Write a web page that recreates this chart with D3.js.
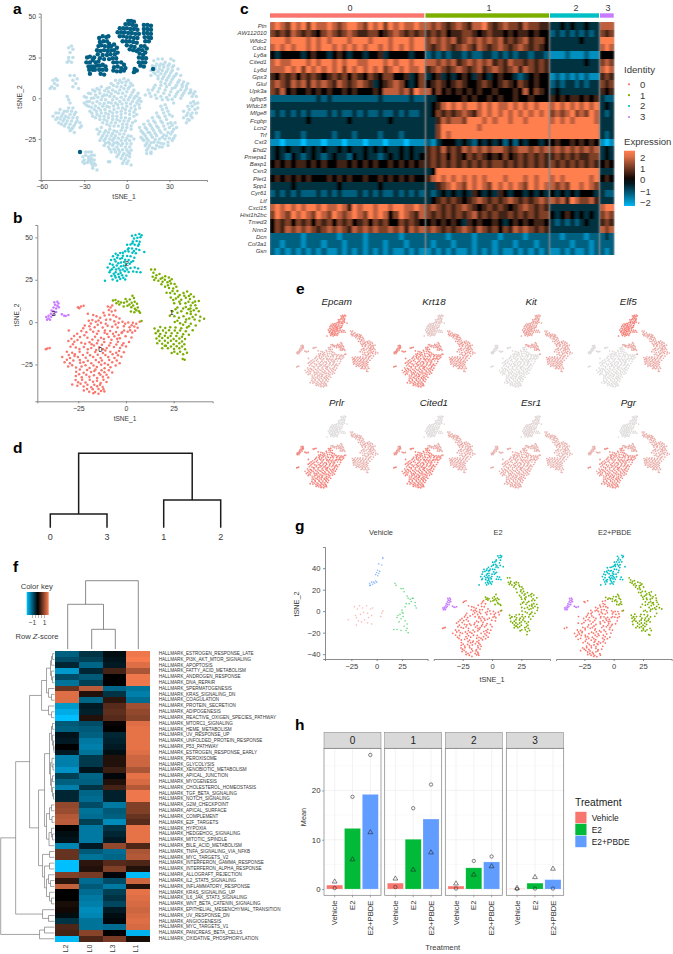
<!DOCTYPE html>
<html><head><meta charset="utf-8">
<script src="https://cdn.jsdelivr.net/npm/d3@7"></script>
<style>html,body{margin:0;background:#fff}svg{display:block;font-family:"Liberation Sans",Arial,sans-serif}</style>
</head><body><svg id="c" width="673" height="954"><defs><filter id="soft" x="-5%" y="-5%" width="110%" height="110%"><feGaussianBlur stdDeviation="0.35"/></filter><filter id="hblur" x="0" y="0" width="100%" height="100%"><feGaussianBlur stdDeviation="1.25 0.25"/></filter></defs></svg>
<script>
// ---------- DATA ----------
const clusterIds=["0","1","2","3"];
const clusterColors=["#F8766D","#7CAE00","#00BFC4","#C77CFF"];
// panel a (tSNE coordinates)
const aDark=[[-19.5,37],[-17,38],[-14.5,37.5],[-13,38],[-19,34.5],[-16.5,35],[-14,35],[-12.5,33.5],[-20,32],[-18,32.5],[-15.5,32],[-13,31.5],[-11,32],[-9,33],[-7,31],[-21,29.5],[-18.5,29],[-16,29.5],[-13.5,29],[-11,29.5],[-9,29.5],[-6.5,28],[-20.5,27],[-17,26.5],[-14,26.5],[-11.5,27],[-8.5,27],[-10,24.5],[-7.5,24.5],[-12.5,24],[-16,24],[-19,24.5],[-23,25],[-28,25],[-26,25.5],[-24,23.5],[-28.5,22],[-26,22],[-22,22],[-20,22.5],[-27,19.5],[-25,19.5],[-23,19.5],[-21,20],[-26.5,17.5],[-24,17.5],[-22.5,17.5],[-19,20],[-17,20.5],[-15,19.5],[-19.5,17.5],[-17,17.5],[-14.5,17.5],[-18.5,15],[-16,14.5],[-9.5,22],[-7,22],[-4,22],[-2,20.5],[-9,19],[-6.5,19.5],[-4,18.5],[-1,18.5],[-9.5,17],[-7,16.5],[-4.5,16.5],[-2,17],[1,47.5],[3,47.5],[5,47],[-1,45.5],[1.5,45.5],[4,45],[6.5,44.5],[-5,43],[-2.5,43],[0,43],[2.5,42.5],[5,42.5],[7.5,42],[-6.5,40.5],[-4,40.5],[-1.5,40.5],[1,40],[3.5,40],[6,39.5],[8.5,39.5],[-5,38],[-2.5,38],[0,37.5],[2.5,37.5],[5,37],[7.5,37],[-3,35],[-0.5,35],[2,35],[4.5,34.5],[7,34],[0,32.5],[3,32],[5.5,31.5],[2,30],[4.5,29.5],[7,29],[12,45],[14.5,45],[17,44.5],[12,42.5],[14.5,42.5],[17,42],[12,40],[14.5,40],[17,39.5],[12.5,37.5],[15,37.5],[17,37],[13,35],[15.5,35],[10,32],[12.5,32],[14,30.5],[8.5,30],[11,29.5],[13,28],[9,27.5],[11.5,26.5],[8.5,25],[11,24.5],[13.5,24.5],[8.5,22],[11,22],[13,22],[9.5,20],[12,19.5],[5.5,18],[7,17],[5,16],[18.5,18],[-26,15],[-33,-33]];
const aLight=[[-30,1],[-27,3],[-24,5],[-21,6],[-18,7],[-14,6],[-11,9],[-8,11],[-5,11],[-2,12],[1,11],[4,8],[-28,-2],[-25,0],[-22,2],[-19,3],[-16,2],[-13,4],[-10,5],[-7,7],[-4,7],[-1,8],[2,7],[5,5],[8,3],[-30,-3],[-27,-5],[-24,-3],[-21,-2],[-18,-1],[-15,-1],[-12,1],[-9,1],[-6,3],[-3,3],[0,4],[3,2],[6,1],[9,0],[-26,-8],[-23,-7],[-20,-6],[-17,-5],[-14,-5],[-11,-3],[-8,-3],[-5,-2],[-2,-1],[1,-1],[4,-2],[7,-3],[10,-2],[-24,-11],[-21,-10],[-18,-9],[-15,-9],[-12,-8],[-9,-7],[-6,-6],[-3,-6],[0,-5],[3,-6],[6,-7],[9,-6],[-19,-13],[-16,-13],[-13,-12],[-10,-11],[-7,-11],[-4,-10],[-1,-9],[2,-10],[5,-11],[7,-10],[-14,-16],[-11,-15],[-8,-15],[-5,-14],[-2,-14],[1,-14],[4,-15],[6,-14],[-3,-18],[0,-18],[3,-19],[-21,-19],[-18,-18],[-15,-20],[-12,-19],[-9,-20],[-20,-22],[-17,-23],[-14,-23],[-11,-23],[-8,-23],[-5,-22],[-2,-22],[1,-23],[-19,-26],[-16,-26],[-13,-27],[-10,-26],[-7,-27],[-4,-26],[-1,-26],[2,-26],[5,-25],[-16,-29],[-13,-30],[-10,-29],[-7,-30],[-4,-29],[-1,-30],[2,-30],[-11,-33],[-8,-33],[-5,-33],[-2,-34],[1,-33],[3,-32],[-7,-36],[-4,-37],[-1,-37],[2,-36],[-3,-40],[0,-40],[3,-41],[9,-18],[12,-16],[15,-14],[18,-12],[21,-9],[24,-5],[27,-4],[11,-21],[14,-19],[17,-17],[20,-15],[23,-12],[26,-9],[29,-8],[32,-11],[10,-24],[13,-23],[16,-21],[19,-20],[22,-18],[25,-15],[28,-13],[31,-15],[34,-15],[12,-26],[15,-26],[18,-24],[21,-23],[24,-21],[27,-19],[30,-18],[33,-19],[35,-18],[13,-29],[16,-29],[19,-27],[22,-27],[25,-24],[28,-23],[31,-22],[34,-23],[14,-32],[17,-33],[20,-31],[23,-30],[26,-28],[29,-27],[32,-26],[14,-34],[17,-34],[25,-30],[29,-29],[19,23],[22,24],[25,24],[31,24],[33,23],[18,20],[21,21],[24,21],[27,22],[30,21],[33,20],[36,18],[17,17],[20,18],[23,18],[26,19],[29,18],[32,17],[35,15],[38,14],[17,14],[20,15],[24,15],[27,15],[30,14],[33,13],[37,11],[40,10],[43,9],[22,12],[25,12],[28,11],[31,10],[35,8],[39,7],[42,6],[45,5],[20,8],[24,8],[28,7],[32,6],[36,4],[40,3],[44,3],[48,4],[15,5],[18,5],[22,4],[26,3],[30,2],[34,1],[38,0],[46,1],[49,1],[13,2],[17,1],[21,0],[25,-1],[29,-1],[33,-3],[47,-2],[50,-3],[43,-5],[46,-5],[50,-6],[40,-8],[43,-9],[46,-9],[49,-9],[40,-12],[43,-13],[46,-12],[42,-15],[-50,-9],[-47,-7],[-44,-8],[-41,-6],[-38,-6],[-52,-11],[-49,-12],[-46,-11],[-43,-11],[-40,-10],[-37,-10],[-35,-12],[-48,-15],[-45,-14],[-42,-14],[-39,-14],[-36,-15],[-33,-15],[-44,-17],[-41,-18],[-38,-18],[-33,-18],[-40,-20],[-37,-21],[-32,-17],[-53,7],[-51,6],[-49,8],[-51,9],[-49,11],[-52,11],[-50,12],[-54,6],[-40,14],[-37,14],[-38,11],[-35,12],[-36,9],[-38,7],[-34,6],[-41,23],[-39,22],[-38,25],[-41,25],[-40,28],[-38,30],[-41,31],[-39,32],[-42,22],[-31,-36],[-29,-33],[-27,-33],[-25,-33],[-23,-35],[-30,-38],[-27,-36],[-25,-37],[-23,-38],[-30,-40],[-27,-39],[-25,-40],[-22,-41],[-24,-43],[-21,-44],[-31,-39],[-13,-39],[-12,-39],[-41,-1],[-42,1],[-40,-3],
 [-28.5,.5],[-25.5,2.8],[-22.5,4.2],[-19.4,5],[-15.6,4.6],[-12.4,6.6],[-9.4,7.8],[-6.2,9.2],[-3.4,9.6],[-.6,10],[2.6,9.2],[-26.4,-2],[-23.2,.2],[-20.4,.6],[-17.2,1],[-14.2,2],[-11,2.8],[-8,4],[-5,5],[-2,5.8],[1,6],[4,3.6],[7,1.4],[-28.6,-4.2],[-25,-5.6],[-22.2,-4.8],[-19,-3.4],[-16,-3.2],[-13,-2.6],[-10,-1],[-7,-.4],[-4,.6],[-1,1.4],[2,.6],[5,-.2],[8,-1.4],[-24.6,-9.2],[-21.4,-8.2],[-18.6,-7.2],[-15.4,-7],[-12.4,-5.6],[-9.4,-4.8],[-6.4,-4],[-3.4,-3.6],[-.4,-3],[2.6,-3.6],[5.6,-4.8],[8.6,-4],[-22,-12],[-19,-11],[-16,-11],[-13,-10],[-10,-9],[-7,-8.6],[-4,-8],[-1,-7],[2,-7.8],[5,-8.6],[-17,-15],[-14,-14],[-10,-13],[-7,-13],[-4,-12],[-1,-12],[2,-12.4],[-12,-17],[-9,-17],[-6,-17],[-3,-16],[0,-16],[3,-17],[-19,-20.4],[-16,-21.4],[-13,-21],[-10,-21.6],[-7,-20.6],[-4,-19.6],[-1,-20],[-18,-24.4],[-15,-24.8],[-12,-25],[-9,-24.6],[-6,-24.6],[-3,-24],[0,-24.6],[3,-23.4],[-15,-27.6],[-12,-28],[-9,-27.6],[-6,-28],[-3,-27.8],[0,-28],[3,-28],[-12,-31.4],[-9,-31.4],[-6,-31.6],[-3,-31.6],[0,-31.8],[-6,-34.6],[-3,-35.2],[0,-35],[2,-34],[-2,-38.6],[1,-38.6],[10,-20],[13,-18],[16,-16],[19,-14],[22,-11],[25,-7],[28,-6],[12,-22],[15,-21],[18,-18.6],[21,-17],[24,-14],[27,-11],[30,-10],[11,-25],[14,-24.6],[17,-22.6],[20,-21.6],[23,-19.6],[26,-17],[29,-15.6],[32,-16.6],[14,-27.6],[17,-27.4],[20,-25.4],[23,-25],[26,-22.6],[29,-21],[32,-20.6],[15,-30.6],[18,-30.6],[21,-29],[24,-27.6],[27,-25],[30,-24.6],[33,-24.6],[20,19.4],[23,19.8],[26,20.6],[29,20],[32,19],[19,16],[22,16.4],[25,17],[28,16.4],[31,15.6],[34,14],[22,13.6],[26,13.4],[29,12.6],[32,11.6],[36,9.6],[39,8.4],[42,7.6],[24,10],[27,9],[30,8.4],[34,6.6],[38,5.2],[41,4.6],[45,3.6],[19,6.4],[23,6],[27,5],[31,4],[35,2.6],[39,1.6],[47,2.6],[16,3],[20,2],[24,1],[28,.4],[32,-.6],[45,-3],[48,-3.6],[44,-7],[48,-7],[42,-10.6],[45,-10.6],[44,-13.6],[-48,-9],[-45,-9.6],[-42,-8],[-39,-8],[-36,-8.6],[-50,-13],[-47,-12.8],[-44,-12.6],[-41,-12],[-38,-12],[-35,-13.8],[-46,-16],[-43,-15.6],[-40,-16],[-37,-16.6],[-39,-19],[-29,-35],[-27,-37.6],[-25,-35],[-28,-39.4],[-25,-38.6],[-23,-40],[-24,-41.6]];
// panels b, e, g (shared tSNE coordinates)
const cells0=[[-9.5,9.2],[-8.1,8.6],[-7.2,9.8],[-9,7.1],[-7.5,6.3],[-5.6,6.9],[-8.8,4.4],[-6.6,4.1],[-5.1,3.2],[-17.2,4.2],[-15.4,3.5],[-13.5,2.6],[-11.2,3.9],[-3.4,2.1],[-10.4,1.4],[-8.2,1.5],[-19.5,.8],[-17.6,1.2],[-15.8,.2],[-13.1,-.3],[-6.1,.5],[-3.9,-.4],[-1.8,.3],[1.2,-.2],[3.6,-.4],[5.4,-.9],[7.2,.2],[-21.6,-2],[-19.2,-2.4],[-16.4,-3],[-12.2,-3.1],[-9.6,-2.2],[-7.2,-2.7],[-4.4,-3.1],[-1.1,-2.5],[1.9,-3],[4.4,-2.6],[6.1,-3.3],[-23.4,-5.2],[-20.8,-6],[-17.2,-5.7],[-14.4,-5.2],[-11.2,-6.2],[-8.3,-5.3],[-5.2,-5.8],[-2.3,-6.4],[.9,-5.6],[3.3,-6.1],[4.8,-5.1],[-27.2,-8.2],[-24.1,-8.8],[-20.2,-9.2],[-16.2,-8.6],[-13.1,-9.2],[-9.1,-8.8],[-6.1,-8.4],[-3.2,-9.5],[-.2,-8.4],[2.9,-9],[-30.2,-11.2],[-27.1,-11.6],[-23.4,-12.2],[-19.1,-11.8],[-15.2,-12.4],[-11.4,-11.7],[-8.1,-12.3],[-4.2,-11.6],[-1.3,-12.4],[1.6,-11.7],[-29.1,-14.5],[-26.3,-15],[-22.1,-14.6],[-18.2,-15.2],[-14,-14.8],[-10.1,-15.3],[-6.3,-14.6],[-3.1,-15.2],[0,-14.4],[-31,-17.5],[-28.2,-18],[-24.3,-17.4],[-20.2,-18.1],[-16.1,-17.6],[-12.1,-18.2],[-8.2,-17.5],[-5.1,-18.1],[-1.1,-17.7],[-33.4,-20.6],[-29.3,-21.2],[-25.2,-20.6],[-21.1,-21],[-17.2,-20.5],[-13.3,-21.2],[-9.3,-20.6],[-6,-21.2],[-2.4,-20.4],[-32.2,-23.6],[-29.4,-24.2],[-22.2,-23.7],[-18.2,-24.2],[-14.2,-23.6],[-11.1,-24.3],[-7.2,-23.7],[-3.3,-24.2],[-30.3,-26.2],[-26.2,-26.8],[-23.3,-26.2],[-19.1,-27],[-15.3,-26.4],[-11.2,-27.2],[-8.1,-26.6],[-26.1,-29.2],[-22.2,-29.8],[-18.3,-29.4],[-14.1,-30.2],[-11.3,-29.6],[-7.2,-29.7],[-26.3,-31.8],[-23.2,-32.5],[-19.2,-32.2],[-15.1,-33],[-12.1,-32.2],[-9.3,-32.7],[-25.1,-35.4],[-21.2,-35.6],[-17.3,-35.2],[-13.3,-35.9],[-10.2,-35.3],[-28.2,-36.8],[-25.5,-37.5],[-22.2,-38],[-18.2,-38.4],[-15.1,-37.8],[-12.2,-38.2],[-22.1,-40.3],[-19.3,-41],[-16.2,-41.2],[-13.1,-40.6],[-11.3,-40.9],[-17.1,-42],[-14.4,-42.3],[-41.2,-15.6],[-40,-15.2],[-42,-16],[-25.2,8.8],[-23.6,9.2],[-22.2,9.6],[-24.5,8.2],[-30,-5],[-20,5],[-27,-20],[-11,-5],[-2,-6],[-18,-13],[-7,-19],[-16,-28],[-24,-24],[-12,-16],
 [-11.8,5.6],[-14.4,.9],[-18.4,-.8],[-14.8,-1.6],[-10.6,-1],[-5.4,-1.4],[-.4,-1],[3,-1.8],[-22.4,-3.6],[-18.6,-4.4],[-15.2,-6.8],[-9.8,-7],[-6.8,-6.8],[-3.8,-7.6],[-1,-5],[2.2,-4.8],[-25.6,-6.8],[-21.8,-7.8],[-17.6,-10.2],[-14.6,-10.8],[-11.6,-10],[-7.6,-10.4],[-4.6,-9.8],[-28.6,-9.8],[-25.4,-10.6],[-21.4,-12.8],[-16.8,-13.8],[-12.6,-13.4],[-8.8,-13.8],[-5,-13.2],[-2,-13.6],[-27.8,-13],[-24.4,-15.8],[-20,-16],[-15.6,-16.4],[-10.8,-16.8],[-3.6,-17],[-30,-19.4],[-26.8,-19],[-22.6,-19.4],[-18.8,-19.6],[-14.8,-19.2],[-10.8,-19.4],[-4.2,-19.6],[-31,-22.2],[-27.6,-22.6],[-24.2,-22.4],[-20,-22.8],[-15.8,-22.4],[-12.6,-22.6],[-8.8,-22.4],[-4.8,-22.6],[-28.2,-25.4],[-21.2,-25.4],[-17,-25.6],[-13,-25.2],[-9.4,-25.2],[-5.4,-25.6],[-24.2,-28],[-20.4,-28.2],[-16.6,-28.8],[-12.8,-28.4],[-9,-28.4],[-24.6,-30.8],[-20.8,-31],[-16.8,-31.4],[-13.4,-31],[-10.2,-31],[-23,-34],[-19,-34],[-15.2,-34.6],[-11.8,-34],[-26.4,-34.2],[-23.8,-36.4],[-20.2,-37],[-16.6,-37],[-13.6,-37],[-20.4,-39.4],[-17.4,-39.6],[-14.4,-39.4],[-11.8,-39.6]];
const cells1=[[-6.8,12.8],[-5.5,13],[-4,12.2],[-2.6,11.6],[-1,11.5],[.5,12.2],[2,13.4],[3.4,15.6],[4.2,14.2],[3,11.4],[4.6,12],[5.8,10.9],[6.2,8.6],[-3.5,10.4],[-1.2,9.2],[.8,9.6],[2.8,8.8],[4.7,7.9],[6.8,6.4],[2.6,6.2],[4.4,5.8],[7.4,5.5],[8.2,.6],[13.2,31],[14.4,29.2],[15.2,31],[14,26.8],[16,27.6],[17.6,28.4],[19.1,26.2],[20.6,27],[22.5,26.4],[24,25.3],[14.8,24.9],[17,24.4],[19.2,23.8],[21.8,23.6],[23.6,22.8],[25.5,22.5],[20.5,20.8],[22.6,20.2],[24.8,19.8],[27,18.3],[21.3,17.4],[23.2,17.2],[25.6,16.8],[28.2,16],[30.2,17.2],[32.1,18],[34,16.4],[35.6,15],[23.5,14.6],[26.2,14],[29,13.2],[31.4,14.4],[33.6,13.6],[36.2,12.2],[38.2,12.4],[25.3,11.2],[28.4,10.8],[31.2,11.2],[34,9.8],[36.4,10],[30,8],[32.8,7.6],[35.6,7],[38.2,6.4],[24.4,6.4],[27,5.6],[34,4.8],[36.6,4.4],[39,3.2],[41,2],[27.8,2.6],[30.2,3.4],[33.2,2.2],[36,1.6],[38.6,.8],[25.6,.1],[28.4,-.6],[31.2,.1],[34,-1],[36.6,-2],[15,-3.8],[18,-2.8],[20.6,-3.4],[23.2,-3],[26,-3.2],[29,-3.6],[32,-3.2],[35,-4.8],[15.6,-6.6],[18,-7],[21,-6.2],[24,-6.6],[27,-6.4],[30,-7.2],[33,-7.4],[16,-9.6],[19,-9.4],[22,-9.2],[25,-10],[28,-9.6],[31,-10],[16.4,-12.4],[19,-12.8],[22,-12.2],[25,-13],[28,-12.4],[30.6,-13],[19,-15.4],[22,-15.4],[25.2,-15.8],[28,-15.4],[31,-16],[24,-18.2],[27,-18.6],[30,-19],[32,-18],[29.8,-21.8],[30.8,-22.2],[21,-14],[17,-5],[34,6.2],[23,3.8],[30,-1.5],
 [-5,11.2],[1.8,10.4],[-.2,13.6],[3.8,9.8],[5.4,7],[15.6,26],[18.2,25.6],[20.4,25],[23,24.2],[18.6,22.4],[22,21.8],[26.4,20.8],[24.4,18.4],[27.4,15],[30.6,15.6],[33,15.4],[24.8,13],[28,12],[32.8,12],[35,11.4],[27,8.6],[31.4,9],[33.8,8],[26,7.6],[29,6.4],[32,5.2],[37,8.2],[25.4,3.4],[31.6,1.6],[35,3],[27,.8],[33,-2.4],[16.8,-5.4],[19.4,-5],[22.6,-4.8],[25.6,-5],[28.4,-5],[31.4,-5.4],[17.4,-8.4],[20.4,-8],[23.4,-8.2],[26.4,-8.2],[29.4,-8.6],[17.6,-11],[20.4,-11],[23.6,-11],[26.4,-11.2],[29.4,-11.4],[20.4,-14],[23.6,-14.4],[26.6,-14.2],[29.4,-14.4],[25.4,-17.4],[28.4,-17.4]];
const cells2=[[3.2,51],[5,51.4],[7,52],[8.2,51.2],[4.2,49.4],[6,49.8],[7.6,50],[3.6,47.6],[5.6,47.8],[7.2,47.4],[.6,45.6],[2.4,45.8],[4.6,45.6],[6.4,45],[1.4,43.6],[3.2,43.4],[5.4,43.2],[7,42.6],[9.6,41.4],[-.4,41.8],[1.4,41.6],[3.4,41],[5.2,40.6],[-3,40.8],[-5.4,40.4],[-1.6,39.2],[.6,39],[2.4,38.8],[4.4,38],[-6.8,38.8],[-4.6,38],[-3,37.4],[-.4,36.8],[1.4,36.6],[3.8,36],[-7.8,36.6],[-5.4,35.8],[-2.6,35.2],[0,34.4],[2,34.4],[-7,33.8],[-4.8,33.4],[-2.6,33],[-.2,32.2],[2.4,32],[4.6,32.2],[6.4,31.6],[-9.6,32.2],[-7.4,31.2],[-5.2,31],[-3,30.4],[-.6,30],[1.4,29.6],[3.8,29.8],[5.6,29.6],[-8.6,29.4],[-6.4,28.6],[-4,28.2],[-2,27.6],[.2,27.4],[-7.6,27.2],[-5.4,26.4],[-3,25.4],[-.4,25.2],[-7,25.2],[-4.6,24.4],[7.6,29.4],[-11,24.4],
 [6.8,46],[3.4,46.6],[1,42.8],[4.2,42],[-1.6,41],[-4.2,39.4],[-2,37.8],[-6,37],[-1,35.4],[2.8,35.4],[-8.4,34.4],[-4,34.8],[-1.2,33.2],[-6.4,32.4],[-3.8,31.6],[-1.6,31],[.6,31],[-8.2,30.4],[-5.4,29.4],[-2.8,29],[-5.8,27.4],[-3.6,26.6],[-1.4,26.2]];
const cells3=[[-37.6,11.8],[-36,12],[-35.4,11],[-37.2,10.2],[-36,9.6],[-35.2,8.8],[-38,8.6],[-36.6,8],[-39,6.8],[-38,6.4],[-36.6,6],[-39.4,5],[-38.2,4.4],[-40.6,3.8],[-39.2,3.2],[-41.8,3],[-40.6,2.2],[-41.4,1.4],[-39.8,1.4],[-33.6,4.6],[-32.4,3.8],[-31.6,3.6],[-30.2,4.2]];
const clusterCells=[cells0,cells1,cells2,cells3];
// panel g, Vehicle
const vehicleRed=[[-28,-8],[-22,4],[-21,-4],[-20,-13],[-19,2],[-18,-9],[-17,5],[-16,-3],[-15,-10],[-14,3],[-13,-1],[-12,-8],[-10,5],[-9,-2],[-9,-11],[-8,-6],[-6,2],[-5,-4],[-5,-12],[-4,3],[4,-5],[6,0],[5,-2],[-20,-6]];
const vehicleGreen=[[18,26],[19,24],[24,21],[26,21],[27,18],[30,14],[31,12],[33,11],[35,12],[34,9],[36,12],[32,7],[38,5],[39,3],[29,7],[28,4],[38,8],[25,-1],[23,-3],[21,-4],[20,-6],[24,-7],[26,-5],[28,-9],[22,-10],[27,-14],[30,-12],[29,-18],[31,-20],[17,-17],[20,-17],[24,-18],[30,-16],[26,-2],[25,1]];
const vehicleBlue=[[6,50],[6,49],[5,43],[2,44],[3,37],[1,38],[1,33],[2,35],[0,36],[-1,34],[-7,26],[-5,27],[-3,27],[-1,28],[0,27],[-2,26],[-4,25],[-6,24],[-7,24]];
// panel c
const genes=["Ptn","AW112010","Wfdc2","Cdo1","Ly6a","Cited1","Ly6d","Gpx3","Glul","Upk3a","Igfbp5","Wfdc18","Mfge8","Fcgbp","Lcn2","Trf","Cst3","Ehd2","Pmepa1","Basp1","Csn3","Plet1","Spp1","Cyr61","Ltf","Cxcl15","Hist1h2bc","Tmed3","Nnn3","Dcn","Col3a1","Gsn"];
// one digit per cell column, 0 = -2.4 ... 4 = 0 ... 8 = 2.4
const geneCluster0=["787687868778767887687868787787","656576565467656765566456765656","888788878787888788878887888788","787878878788787878788787878788","434444345443454344344534444344","787788878788787887788878788788","777878687878786878787867878778","546564656545656465465466445346","676576757676576567653456764346","657454454545445454445477767587","222222222323222222222322222322","333333333333333333333333333333","232323232223232232322322323223","333333343333333433333334333333","333333333333333333333333333333","323333233333233323333233323333","110111011101110111011101110111","343433434343343433434343343433","343243234323433243433234343434","454545545454455454545445454545","333333333333333333333333333333","454545454445454544544545454544","333343333333343333333433333333","232323222323232223232322323232","333333333333333333333333333333","787878788787787587887887887787","687687876876876787687874687657","465646564656465645646564465654","465767676567676576767667675767","222222122222212222122222212222","221222122212221222122212221222","212121212121121212121212112121"];
const geneCluster1=["767656765778656766576655","565645566545655454554544","676767567676767565675664","656765676576567656765654","232323323223323232332332","776767567676756576656565","567656765675676567576565","345343454354345443234544","456545654456545654654544","746454545454454445474654","334444454544545445445444","345787878878787787878788","346565676578787878787878","335767768887878878878888","336888888878888888888888","336878888888888888888888","213444343243434242434434","565756576767677656776767","565646546565454645656565","565656565656566565656565","348888888888888888888888","578787878787888788878788","335678768787687878768787","323434343543435434434343","345656545676565676565676","676565676545656545676565","656565656756565565656566","454545435454454345454554","676565676576564657676565","222212222122221222212222","212221222122212221222122","121212112121212112121212"];
const geneCluster2=["3343433433","2323232323","3333334333","3333333333","1112111211","3333333433","3333333333","1212121211","2323323233","3433333333","5454554545","7878787878","6767867687","7878788887","8888888888","8888888888","4544545454","6767676767","5656565566","6565656565","8888888888","7878888878","7676887876","4343434443","7675876675","3333333333","4345434343","3232323433","3333333333","2212222122","2222122212","1121211212"];
const geneCluster3=["777","656","888","787","444","676","787","565","656","545","322","343","323","333","333","323","101","343","343","454","333","454","333","322","333","788","676","565","767","232","222","212"];
const exprTicks=[2,1,0,-1,-2];
// panel d
const clusterTree=[10,[2,"0","3"],[3,"1","2"]];
// panel e
const markers=["Epcam","Krt18","Kit","Elf5","Prlr","Cited1","Esr1","Pgr"];
const markerLevels=[[.45,.65,.9,.5],[.9,.65,.25,.85],[.04,.55,.6,.05],[.02,.55,.95,.05],[.95,.45,.02,.9],[.95,.5,.03,.7],[.55,.42,.1,.42],[.8,.5,.02,.45]];
// panel f
const hallmarks=["ESTROGEN_RESPONSE_LATE","PI3K_AKT_MTOR_SIGNALING","APOPTOSIS","FATTY_ACID_METABOLISM","ANDROGEN_RESPONSE","DNA_REPAIR","SPERMATOGENESIS","KRAS_SIGNALING_DN","COAGULATION","PROTEIN_SECRETION","ADIPOGENESIS","REACTIVE_OXIGEN_SPECIES_PATHWAY","MTORC1_SIGNALING","HEME_METABOLISM","UV_RESPONSE_UP","UNFOLDED_PROTEIN_RESPONSE","P53_PATHWAY","ESTROGEN_RESPONSE_EARLY","PEROXISOME","GLYCOLYSIS","XENOBIOTIC_METABOLISM","APICAL_JUNCTION","MYOGENESIS","CHOLESTEROL_HOMEOSTASIS","TGF_BETA_SIGNALING","NOTCH_SIGNALING","G2M_CHECKPOINT","APICAL_SURFACE","COMPLEMENT","E2F_TARGETS","HYPOXIA","HEDGEHOG_SIGNALING","MITOTIC_SPINDLE","BILE_ACID_METABOLISM","TNFA_SIGNALING_VIA_NFKB","MYC_TARGETS_V2","INTERFERON_GAMMA_RESPONSE","INTERFERON_ALPHA_RESPONSE","ALLOGRAFT_REJECTION","IL2_STAT5_SIGNALING","INFLAMMATORY_RESPONSE","KRAS_SIGNALING_UP","IL6_JAK_STAT3_SIGNALING","WNT_BETA_CATENIN_SIGNALING","EPITHELIAL_MESENCHYMAL_TRANSITION","UV_RESPONSE_DN","ANGIOGENESIS","MYC_TARGETS_V1","PANCREAS_BETA_CELLS","OXIDATIVE_PHOSPHORYLATION"];
const libraries=["L2","L0","L3","L1"];
const zScores=[[-.75,-.4,-.1,1.4],[-.6,-.5,-.15,1.45],[-.3,-.8,-.2,1.3],[-1.2,-.3,.4,1],[-.6,-.7,0,1.4],[-.9,-.5,0,1.4],[.6,1.1,-.8,-.9],[1.3,.2,-.4,-1],[1.3,-.8,.25,-.85],[-1.2,-.2,.5,.95],[-1.35,-.25,.55,.85],[-1.5,.2,.5,.8],[-.7,-.6,.05,1.3],[-.75,-.7,0,1.35],[-.15,-.75,-.3,1.35],[-.2,-.95,-.25,1.35],[0,-1,-.2,1.35],[-.2,-.9,-.1,1.3],[-1,-.45,.2,1.2],[-1,-.45,.2,1.2],[-1.15,-.15,.35,1],[-.5,-.8,-.05,1.35],[-.75,-.75,.2,1.25],[-1,-.4,.4,1.05],[-.3,-.8,-.25,1.4],[-.3,-.85,-.25,1.4],[.85,-.6,-.95,.75],[.9,-.9,-.7,.75],[1.05,-.85,-.75,.6],[1.1,-.5,-1.1,.5],[0,-.95,-.4,1.35],[-.1,-.95,-.3,1.35],[-.15,-.95,-.2,1.35],[-1.05,-.2,.85,.45],[.6,-.7,-.85,1],[.6,-.9,-.8,1.05],[-1.5,.25,.5,.45],[-1.5,.2,.75,.2],[.75,.7,-.05,-1.45],[.25,-.85,-.6,1.2],[1.15,-.7,-.95,.2],[0,-.85,-.5,1.35],[0,-.95,-.4,1.3],[.15,-1,-.55,1.25],[.1,-1.1,-.2,1.2],[-.1,-1.05,-.1,1.25],[-.4,-.9,-.05,1.3],[.45,-.9,-.85,1.25],[.4,.8,0,-1.4],[-1.45,.45,.7,.15]];
const libraryTree=[58,[32,"L2",[16,"L0","L3"]],"L1"];
const rowTree=[54,
 [39,
  [25,
   [13,
    [8,[4,[3,[2,0,1],2],[3,3,[2,4,5]]],[6,6,[3,7,8]]],
    [6,9,[3,10,11]]],
   [16,
    [10,
     [5,[3,[2,12,13],[2,14,[1,15,[.5,16,17]]]],[4,[2.5,18,[1.5,19,20]],[3,[2,21,22],[2,23,[1,24,25]]]]],
     [8,[5,[3,26,27],[2.5,28,29]],[5.5,[3,30,[2,31,32]],33]]],
    [12,
     [5,34,35],
     [10,[5,36,37],[8,[6,38,[4,39,40]],[5,41,[3,42,43]]]]]]],
  [12,44,[6,45,46]]],
 [15,[10,47,48],49]];
// panel h
const treatments=["Vehicle","E2","E2+PBDE"];
const treatmentColors=["#F8766D","#00BA38","#619CFF"];
const meanValues=[[.8,12.3,19.2],[1.2,10.1,14.2],[.6,4.3,5.5],[.05,1.2,1.9]];
const circleValues=[[.2,18.7,27.2],[.4,16.4,21.2],[.1,5.7,6.6],[0,.1,.1]];
const triangleValues=[[1.5,6,11.5],[2.1,3.9,7.4],[1.1,2.9,4.6],[.2,2.4,4.1]];

// ---------- HELPERS ----------
const svg=d3.select("#c");
const txt="#3a3a3a", axc="#6e6e6e";
function label(x,y,s,o={}){
  const t=svg.append("text").attr("x",x).attr("y",y).attr("dy",o.dy??"0.35em").attr("text-anchor",o.a||"middle")
   .attr("font-size",o.size||6.8).attr("fill",o.fill||txt).text(s);
  if(o.style)t.attr("font-style",o.style); if(o.weight)t.attr("font-weight",o.weight);
  if(o.rot)t.attr("transform",`rotate(${o.rot},${x},${y})`);
  return t;
}
function panelLetter(s,x,y){label(x,y,s,{a:"start",size:15.5,weight:"bold",fill:"#000",dy:0});}
function axes(x,y,xT,yT,hideY,fs=6.9){
  const b=y.range()[0], l=x.range()[0];
  const gx=svg.append("g").attr("transform",`translate(0,${b})`).call(d3.axisBottom(x).tickValues(xT).tickSize(2).tickPadding(2.5));
  gx.selectAll("text").attr("font-size",fs).attr("font-family",null).attr("fill",txt);
  gx.selectAll("path,line").attr("stroke",axc).attr("stroke-width",.8);
  const gy=svg.append("g").attr("transform",`translate(${l},0)`);
  if(hideY){gy.call(d3.axisLeft(y).tickValues([]).tickSize(0));}
  else gy.call(d3.axisLeft(y).tickValues(yT).tickSize(2).tickPadding(2.5));
  gy.selectAll("text").attr("font-size",fs).attr("font-family",null).attr("fill",txt);
  gy.selectAll("path,line").attr("stroke",axc).attr("stroke-width",.8);
  if(hideY)gy.select("path").remove();
}
function dots(data,x,y,r,fill,op=1){
  svg.append("g").attr("filter","url(#soft)").selectAll("circle").data(data).join("circle")
   .attr("cx",d=>x(d[0])).attr("cy",d=>y(d[1])).attr("r",r).attr("fill",fill).attr("opacity",op);
}
function elbow(g,tree,hFn,leafPos,color,w,horizontal){
  const root=d3.hierarchy(tree,d=>Array.isArray(d)?d.slice(1):null);
  root.eachAfter(n=>{
    if(n.children){n.pos=d3.mean(n.children,c=>c.pos);n.h=n.data[0];}
    else{n.pos=leafPos(n.data);n.h=null;}
  });
  const seg=[];
  root.each(n=>{ if(!n.children)return;
    const h=hFn(n.h), a=n.children[0].pos, b=n.children[1].pos;
    const pts=n.children.map(c=>[c.pos,c.children?hFn(c.h):hFn(0)]);
    const p=horizontal?(u,v)=>`${u},${v}`:(u,v)=>`${v},${u}`;
    seg.push(`M${p(pts[0][0],pts[0][1])}L${p(a,h)}L${p(b,h)}L${p(pts[1][0],pts[1][1])}`);
  });
  g.selectAll("path").data(seg).join("path").attr("d",d=>d).attr("fill","none").attr("stroke",color).attr("stroke-width",w);
}

// ---------- PANEL a ----------
panelLetter("a",13,14.2);
{const xx=d3.scaleLinear().domain([-60.7,56.5]).range([40.7,207]);
 const y=d3.scaleLinear().domain([-50.2,52]).range([180,13.5]);
 axes(xx,y,[-60,-30,0,30],[-25,0,25,50]);
 dots(aLight,xx,y,1.75,"#B9DCE8",.9);
 dots(aDark,xx,y,2.2,"#005E83");
 label(124,196.5,"tSNE_1",{size:6.8});label(20,97,"tSNE_2",{rot:-90,size:6.8});}

// ---------- PANEL b ----------
panelLetter("b",13,223);
{const x=d3.scaleLinear().domain([-46.5,45.5]).range([37.3,212.7]);
 const y=d3.scaleLinear().domain([-46.7,57.3]).range([401.3,225]);
 axes(x,y,[-25,0,25],[-25,0,25,50]);
 clusterCells.forEach((c,i)=>dots(c,x,y,1.25,clusterColors[i]));
 [[-13.5,-16,"0"],[24,6,"1"],[.5,34.5,"2"],[-38,5,"3"]].forEach(d=>label(x(d[0]),y(d[1]),d[2],{size:7.5,fill:"#111"}));
 label(125,418.3,"tSNE_1",{size:6.6});label(17,315,"tSNE_2",{rot:-90,size:6.6});}

// ---------- PANEL c ----------
panelLetter("c",240,14.2);
{const exprColor=d3.scaleLinear().domain([-2.4,0,2.4]).range(["#00BFFF","#000000","#FF7F50"]).clamp(true);
 const segs=[[270,424.3],[425.5,549],[550,599],[600,613.7]];
 const rowsByCluster=[geneCluster0,geneCluster1,geneCluster2,geneCluster3];
 const labX=[350,489,576,608];
 const yBand=d3.scaleBand().domain(genes).range([22.3,255]);
 svg.append("rect").attr("x",270).attr("y",22.3).attr("width",343.7).attr("height",232.7).attr("fill","#8a8a8a");
 segs.forEach((s,i)=>{
  svg.append("rect").attr("x",s[0]).attr("y",13.3).attr("width",s[1]-s[0]).attr("height",4.4).attr("fill",clusterColors[i]);
  label(labX[i],8,clusterIds[i],{size:9});
  const g=svg.append("g").attr("filter","url(#hblur)").attr("shape-rendering","crispEdges");
  rowsByCluster[i].forEach((str,r)=>{
   const xb=d3.scaleBand().domain(d3.range(str.length)).range(s);
   g.append("g").selectAll("rect").data(str.split("")).join("rect")
    .attr("x",(d,k)=>xb(k)).attr("y",yBand(genes[r])).attr("width",xb.bandwidth()+.4).attr("height",yBand.bandwidth()+.3)
    .attr("fill",d=>exprColor((+d-4)*.6));
  });
 });
 genes.forEach(n=>label(266.7,yBand(n)+yBand.bandwidth()/2,n,{a:"end",size:6,style:"italic"}));
 label(624,70,"Identity",{a:"start",size:9.6});
 [84.3,95.2,106,117].forEach((yy,i)=>{
  svg.append("circle").attr("cx",629).attr("cy",yy).attr("r",1.1).attr("fill",clusterColors[i]);
  label(640,yy,clusterIds[i],{a:"start",size:9.6});
 });
 label(624,142,"Expression",{a:"start",size:9.6});
 const defs=svg.select("defs");
 const lg=defs.append("linearGradient").attr("id","expr").attr("x1",0).attr("x2",0).attr("y1",1).attr("y2",0);
 const ys=d3.scaleLinear().domain([-2.3,2.6]).range([206,150.7]);
 d3.range(0,1.01,.1).forEach(t=>lg.append("stop").attr("offset",t).attr("stop-color",exprColor(-2.3+4.9*t)));
 svg.append("rect").attr("x",624).attr("y",150.7).attr("width",11).attr("height",55.3).attr("fill","url(#expr)");
 exprTicks.forEach(t=>label(640,ys(t),t<0?"\u2212"+(-t):t,{a:"start",size:9.6}));
}

// ---------- PANEL d ----------
panelLetter("d",13,453);
{const pos={"0":50.3,"3":107,"1":163.7,"2":220.7};
 const h=d3.scaleLinear().domain([0,2,3,10]).range([527.7,514,500,453.3]);
 elbow(svg.append("g"),clusterTree,h,d=>pos[d],"#1c1c1c",1.5,true);
 Object.keys(pos).forEach(k=>label(pos[k],537,k,{size:9}));}

// ---------- PANEL e ----------
panelLetter("e",296,294);
markers.forEach((m,i)=>{
 const col=i%4,row=i<4?0:1;
 const dx=97.2*col,dy=101*row;
 label(336.7+dx,302+dy,m,{size:9.8,style:"italic",fill:"#222"});
 const x=d3.scaleLinear().domain([0,1]).range([337.7+dx,338.676+dx]);
 const y=d3.scaleLinear().domain([0,1]).range([354.6+dy,353.838+dy]);
 const ramp=d3.interpolateRgb("#DEDEDE","#F8766D");
 clusterCells.forEach((c,k)=>{
  svg.append("g").attr("filter","url(#soft)").selectAll("circle").data(c).join("circle")
   .attr("cx",d=>x(d[0])).attr("cy",d=>y(d[1])).attr("r",.85)
   .attr("fill",(d,j)=>ramp(markerLevels[i][k]*(j%3==0?.72:1)));
 });
});

// ---------- PANEL f ----------
panelLetter("f",13,572);
{const zColor=d3.scaleLinear().domain([-1.5,0,1.5]).range(["#00BFFF","#000000","#FF7F50"]).clamp(true);
 const xb=d3.scaleBand().domain(libraries).range([55,150]);
 const yb=d3.scaleBand().domain(hallmarks).range([650.7,941.7]);
 const g=svg.append("g").attr("shape-rendering","crispEdges");
 hallmarks.forEach((n,r)=>{
  libraries.forEach((l,c)=>g.append("rect").attr("x",xb(l)).attr("y",yb(n)).attr("width",xb.bandwidth()+.3).attr("height",yb.bandwidth()+.3).attr("fill",zColor(zScores[r][c])));
  label(158.7,yb(n)+yb.bandwidth()/2-.3,"HALLMARK_"+n,{a:"start",size:4.6,fill:"#333"});
 });
 const colX={"L2":67.7,"L0":91.7,"L3":115.3,"L1":138.3};
 libraries.forEach(l=>label(colX[l]-2.5,948.5,l,{rot:-90,size:7}));
 const ht=d3.scaleLinear().domain([0,16,32,58]).range([649,629.3,604.3,580.7]);
 elbow(svg.append("g"),libraryTree,ht,d=>colX[d],"#666",.75,true);
 const hr=d3.scaleLinear().domain([0,54]).range([54.5,.7]);
 elbow(svg.append("g"),rowTree,hr,d=>yb(hallmarks[d])+yb.bandwidth()/2,"#666",.6,false);
 // colour key
 const defs=svg.select("defs");
 const lg=defs.append("linearGradient").attr("id","zkey");
 d3.range(0,1.01,.1).forEach(t=>lg.append("stop").attr("offset",t).attr("stop-color",zColor(-1.5+3*t)));
 svg.append("rect").attr("x",26.7).attr("y",592).attr("width",22).attr("height",23).attr("fill","url(#zkey)");
 const kx=d3.scaleLinear().domain([-1,1]).range([32,44]);
 const ka=svg.append("g").attr("transform","translate(0,615)").call(d3.axisBottom(kx).tickValues([-1,-.5,0,.5,1]).tickSize(3).tickFormat(d=>(d==1||d==-1)?d3.format("d")(d):"").tickPadding(2));
 ka.select("path").remove();ka.selectAll("line").attr("stroke",axc).attr("stroke-width",.5);
 ka.selectAll("text").attr("font-size",6.7).attr("font-family",null).attr("fill",txt);
 label(36.7,586,"Color key",{size:7.6});
 const rz=label(37,636.7,"Row ",{size:7.6});rz.append("tspan").attr("font-style","italic").text("Z");rz.append("tspan").text("-score");
}

// ---------- PANEL g ----------
panelLetter("g",295,531);
{const y=d3.scaleLinear().domain([-44.5,59.7]).range([659,547]);
 const panels=[
  {t:"Vehicle",r:[325,427.7],z:376.7,k:1.014,tx:381},
  {t:"E2",r:[433.7,550],z:492,k:1.173,tx:498},
  {t:"E2+PBDE",r:[556,671.7],z:613.7,k:1.173,tx:614.7}];
 panels.forEach((p,i)=>{
  const x=d3.scaleLinear().domain([(p.r[0]-p.z)/p.k,(p.r[1]-p.z)/p.k]).range(p.r);
  axes(x,y,[-25,0,25],[-40,-20,0,20,40],i>0,7.6);
  label(p.tx,532.3,p.t,{size:7.4});
  if(i==0){
   dots(vehicleRed,x,y,.8,treatmentColors[0],.5);
   dots(vehicleGreen,x,y,.8,treatmentColors[1],.6);
   dots(vehicleBlue,x,y,.8,treatmentColors[2],.7);
  } else {
   clusterCells.forEach((c,k)=>dots(c.filter((d,j)=>j%4!=(i-1)||k==3),x,y,.9,clusterColors[k]));
  }
 });
 label(492,679,"tSNE_1",{size:7.3});label(296,604,"tSNE_2",{rot:-90,size:7.3});}

// ---------- PANEL h ----------
panelLetter("h",295,730);
{const y=d3.scaleLinear().domain([-1.27,28.55]).range([895.3,748.3]);
 const pr=[[324,381],[384.7,441.7],[445.3,502.3],[506.3,563.7]];
 const gridMinor=[5,15,25], gridMajor=[0,10,20];
 pr.forEach((r,i)=>{
  const x=d3.scalePoint().domain(treatments).range(r).padding(.6);
  const bw=x.step()*.9;
  const g=svg.append("g");
  g.append("rect").attr("x",r[0]).attr("y",732.3).attr("width",r[1]-r[0]).attr("height",16).attr("fill","#D9D9D9");
  label((r[0]+r[1])/2,740.8,clusterIds[i],{size:10,fill:"#222"});
  gridMinor.forEach(v=>g.append("line").attr("x1",r[0]).attr("x2",r[1]).attr("y1",y(v)).attr("y2",y(v)).attr("stroke","#F2F2F2").attr("stroke-width",.5));
  gridMajor.forEach(v=>g.append("line").attr("x1",r[0]).attr("x2",r[1]).attr("y1",y(v)).attr("y2",y(v)).attr("stroke","#EBEBEB").attr("stroke-width",.6));
  treatments.forEach(t=>g.append("line").attr("x1",x(t)).attr("x2",x(t)).attr("y1",748.3).attr("y2",895.3).attr("stroke","#EBEBEB").attr("stroke-width",.6));
  treatments.forEach((t,k)=>{
   g.append("rect").attr("x",x(t)-bw/2).attr("y",y(meanValues[i][k])).attr("width",bw).attr("height",y(0)-y(meanValues[i][k])).attr("fill",treatmentColors[k]).attr("stroke","#fff").attr("stroke-opacity",.4).attr("stroke-width",.5);
   g.append("circle").attr("cx",x(t)).attr("cy",y(circleValues[i][k])).attr("r",1.7).attr("fill","none").attr("stroke","#222").attr("stroke-width",.55);
   g.append("path").attr("transform",`translate(${x(t)},${y(triangleValues[i][k])})`).attr("d",d3.symbol(d3.symbolTriangle,10)).attr("fill","none").attr("stroke","#222").attr("stroke-width",.55);
   g.append("line").attr("x1",x(t)).attr("x2",x(t)).attr("y1",895.3).attr("y2",897.3).attr("stroke",axc).attr("stroke-width",.6);
   label(x(t),900.5,t,{a:"end",rot:-90,size:7.7,fill:"#333"});
  });
  g.append("rect").attr("x",r[0]).attr("y",748.3).attr("width",r[1]-r[0]).attr("height",147).attr("fill","none").attr("stroke","#7f7f7f").attr("stroke-width",.7);
  g.append("rect").attr("x",r[0]).attr("y",732.3).attr("width",r[1]-r[0]).attr("height",16).attr("fill","none").attr("stroke","#7f7f7f").attr("stroke-width",.5);
  if(i==0){
   const ay=svg.append("g").attr("transform",`translate(${r[0]},0)`).call(d3.axisLeft(y).tickValues([0,10,20]).tickSize(2).tickPadding(1.5));
   ay.select("path").remove();ay.selectAll("line").attr("stroke",axc).attr("stroke-width",.6);
   ay.selectAll("text").attr("font-size",7.8).attr("font-family",null).attr("fill","#333");
  }
 });
 label(303,817,"Mean",{rot:-90,size:7.3});label(442.7,947.3,"Treatment",{size:7.7});
 label(575,802.7,"Treatment",{a:"start",size:10.3,fill:"#222"});
 treatments.forEach((t,k)=>{
  svg.append("rect").attr("x",575.3).attr("y",811.8+12*k).attr("width",11.2).attr("height",11.4).attr("fill",treatmentColors[k]);
  label(591.7,817.7+12*k,t,{a:"start",size:8.4,fill:"#222"});
 });
}
</script></body></html>
